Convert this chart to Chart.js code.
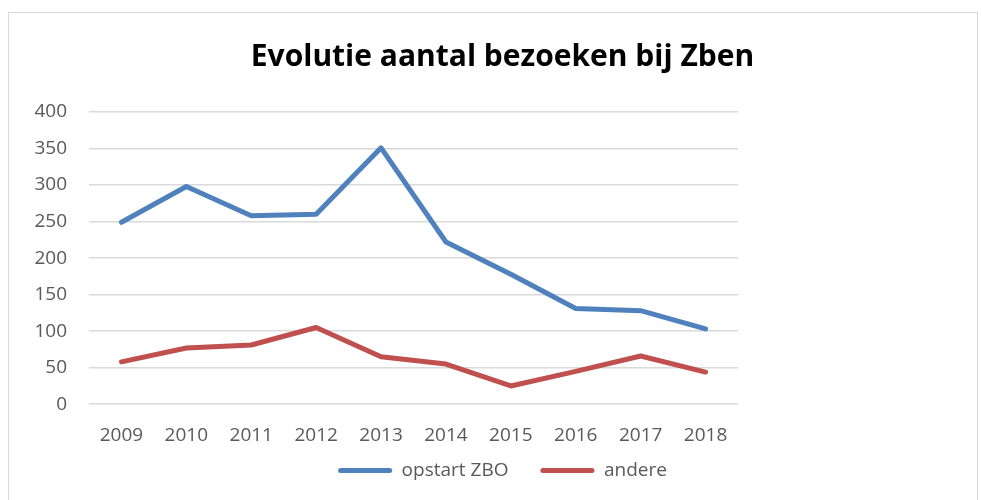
<!DOCTYPE html>
<html>
<head>
<meta charset="utf-8">
<script src="https://cdn.jsdelivr.net/npm/chart.js@4"></script>
<style>
html,body{margin:0;padding:0;background:#fff;}
#frame{position:absolute;left:8px;top:12px;width:970px;height:500px;border:1px solid #d9d9d9;border-bottom:none;box-sizing:border-box;}
#wrap{position:absolute;left:9px;top:13px;width:969px;height:487px;}
</style>
</head>
<body>
<div id="frame"></div>
<div id="wrap"><canvas id="c"></canvas></div>
<script>
const categories = ['2009','2010','2011','2012','2013','2014','2015','2016','2017','2018'];
const opstartZBO = [249, 298, 258, 260, 351, 222, 178, 131, 128, 103];
const andere = [58, 77, 81, 105, 65, 55, 25, 45, 66, 44];
const yTicks = [0, 50, 100, 150, 200, 250, 300, 350, 400];

const FONT = "'Open Sans', 'Noto Sans', sans-serif";
const GRAY = '#595959';
const LEGEND_SHIFT = 38;

const legendShift = {
  id: 'legendShift',
  beforeLayout(chart) {
    const lg = chart.legend;
    if (lg && !lg._shiftPatched) {
      const origFit = lg.fit.bind(lg);
      lg.fit = function () { origFit(); this.height -= LEGEND_SHIFT; };
      lg._shiftPatched = true;
    }
  },
  afterLayout(chart) {
    const lg = chart.legend;
    if (lg) { lg.top -= LEGEND_SHIFT; }
  }
};

new Chart(document.getElementById('c'), {
  type: 'line',
  data: {
    labels: categories,
    datasets: [
      { label: 'opstart ZBO', data: opstartZBO, borderColor: '#4F81BD', backgroundColor: '#4F81BD', borderWidth: 5, pointRadius: 0, tension: 0, borderCapStyle: 'round', borderJoinStyle: 'round' },
      { label: 'andere', data: andere, borderColor: '#C0504D', backgroundColor: '#C0504D', borderWidth: 5, pointRadius: 0, tension: 0, borderCapStyle: 'round', borderJoinStyle: 'round' }
    ]
  },
  plugins: [legendShift],
  options: {
    responsive: true,
    maintainAspectRatio: false,
    animation: false,
    layout: { padding: { left: 18, top: 0, right: 0, bottom: 10 } },
    plugins: {
      title: {
        display: true,
        text: 'Evolutie aantal bezoeken bij Zben',
        color: '#000',
        font: { family: FONT, size: 30, weight: 'bold' },
        padding: { top: 26, bottom: 37 }
      },
      legend: {
        position: 'bottom',
        labels: {
          color: GRAY,
          font: { family: FONT, size: 19 },
          boxWidth: 54,
          boxHeight: 5,
          padding: 32,
          generateLabels: (chart) => {
            const items = Chart.defaults.plugins.legend.labels.generateLabels(chart);
            items.forEach(i => { i.lineWidth = 0; i.borderRadius = 2.5; });
            return items;
          }
        }
      },
      tooltip: { enabled: false }
    },
    scales: {
      x: {
        offset: true,
        grid: { display: false, drawTicks: false },
        border: { display: false },
        ticks: { color: GRAY, font: { family: FONT, size: 19 }, padding: 20, maxRotation: 0, autoSkip: false }
      },
      y: {
        min: 0, max: 400,
        afterBuildTicks: (s) => { s.ticks = yTicks.map(v => ({ value: v })); },
        grid: { color: '#d9d9d9', lineWidth: 1.5, drawTicks: false },
        border: { display: false },
        ticks: { color: GRAY, font: { family: FONT, size: 19 }, padding: 22 },
        afterFit: (s) => { s.width = 62; }
      },
      yR: {
        position: 'right',
        display: true,
        grid: { display: false, drawTicks: false },
        border: { display: false },
        ticks: { display: false },
        afterFit: (s) => { s.width = 240; }
      }
    }
  }
});
</script>
</body>
</html>
